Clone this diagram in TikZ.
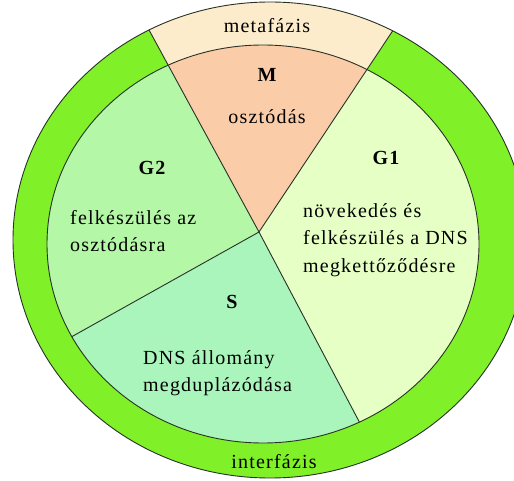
\documentclass[tikz,border=0pt]{standalone}
\usepackage{fontspec}
\setmainfont{Liberation Serif}
\newfontfamily\spaced[LetterSpace=6]{Liberation Serif}
\definecolor{ringcol}{RGB}{128,240,40}
\definecolor{metacol}{RGB}{253,236,204}
\definecolor{mcol}{RGB}{250,204,168}
\definecolor{gonecol}{RGB}{230,255,196}
\definecolor{gtwocol}{RGB}{180,247,166}
\definecolor{scol}{RGB}{170,245,188}
\definecolor{edgecol}{RGB}{40,50,40}
\begin{document}
\begin{tikzpicture}[x=1pt,y=-1pt,
  edge/.style={draw=edgecol,line width=0.9pt},
  lbl/.style={font=\spaced\fontsize{20}{27.5}\selectfont,inner sep=0pt},
  head/.style={font=\spaced\bfseries\fontsize{20}{24}\selectfont,inner sep=0pt},
  blk/.style={lbl,align=left,anchor=west}]
\useasboundingbox (0,0) rectangle (514,481);
\coordinate (C) at (259,232);
\coordinate (IC) at (263,244);
\coordinate (OC) at (270,240);
% far points of the four boundary rays
\coordinate (ML) at (-17,-275);
\coordinate (MR) at (586,-260);
\coordinate (SG) at (774,1207);
\coordinate (GS) at (-671,752);
% outer ring
\fill[ringcol] (OC) ellipse [x radius=257pt, y radius=238pt];
\begin{scope}
  \clip (C) -- (ML) -- (MR) -- cycle;
  \fill[metacol] (OC) ellipse [x radius=257pt, y radius=238pt];
\end{scope}
\draw[edge] (OC) ellipse [x radius=257pt, y radius=238pt];
% inner sectors
\begin{scope}
  \clip (IC) ellipse [x radius=216pt, y radius=199pt];
  \fill[mcol] (C) -- (ML) -- (MR) -- cycle;
  \fill[gonecol] (C) -- (MR) -- (1000,-300) -- (1000,1300) -- (SG) -- cycle;
  \fill[scol] (C) -- (SG) -- (-671,1207) -- (GS) -- cycle;
  \fill[gtwocol] (C) -- (GS) -- (-671,-300) -- (ML) -- cycle;
  \draw[edge] (C) -- (SG);
  \draw[edge] (C) -- (GS);
\end{scope}
\draw[edge] (IC) ellipse [x radius=216pt, y radius=199pt];
\begin{scope}
  \clip (OC) ellipse [x radius=257pt, y radius=238pt];
  \draw[edge] (C) -- (ML);
  \draw[edge] (C) -- (MR);
\end{scope}
% texts
\node[lbl] (meta) at (267,26) {metafázis};
\node[head] (mlab) at (267,75) {M};
\node[lbl] (mtxt) at (267,117) {osztódás};
\node[head] (gtwo) at (152,168) {G2};
\node[blk] (gtwotxt) at (70,231) {felkészülés az\\osztódásra};
\node[head] (slab) at (232,302) {S};
\node[blk] (stxt) at (143,373) {DNS állomány\\megduplázódása};
\node[head] (gone) at (386,158) {G1};
\node[blk] (gonetxt) at (303,240) {növekedés és\\felkészülés a DNS\\megkettőződésre};
\node[lbl] (inter) at (274,462) {interfázis};
\end{tikzpicture}
\end{document}
